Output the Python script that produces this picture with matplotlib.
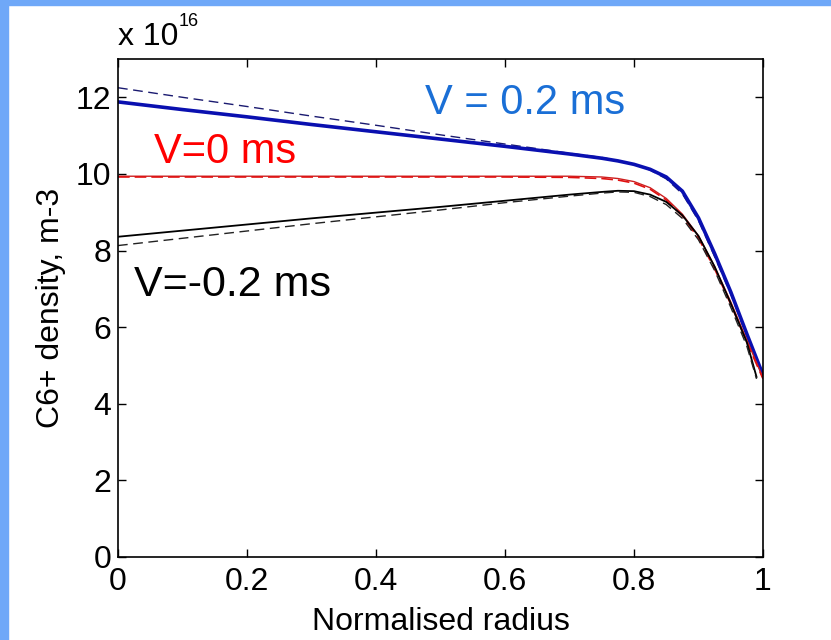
import matplotlib
matplotlib.use("Agg")
import matplotlib.pyplot as plt
from matplotlib.patches import Rectangle

# radial profiles of C6+ density (units of 1e16 m-3)
r = [0, 0.1, 0.2, 0.3, 0.4, 0.5, 0.6, 0.7, 0.75, 0.775, 0.8, 0.825, 0.85, 0.875, 0.9, 0.925, 0.95, 0.975, 1.0]
r_neg = [0, 0.1, 0.2, 0.3, 0.4, 0.5, 0.6, 0.7, 0.75, 0.775, 0.8, 0.825, 0.85, 0.875, 0.9, 0.925, 0.95, 0.975, 0.99]

blue_solid = [11.88, 11.68, 11.49, 11.29, 11.1, 10.91, 10.72, 10.52, 10.41, 10.34, 10.25, 10.12, 9.92, 9.55, 8.85, 7.92, 6.92, 5.82, 4.75]
blue_dash = [12.25, 12.0, 11.76, 11.51, 11.27, 11.02, 10.78, 10.54, 10.43, 10.35, 10.25, 10.1, 9.87, 9.48, 8.78, 7.84, 6.86, 5.76, 4.7]
red_solid = [9.94, 9.94, 9.94, 9.94, 9.94, 9.94, 9.94, 9.94, 9.92, 9.88, 9.8, 9.64, 9.36, 8.95, 8.38, 7.58, 6.66, 5.66, 4.68]
red_dash = [9.92, 9.92, 9.92, 9.92, 9.92, 9.92, 9.92, 9.91, 9.88, 9.84, 9.76, 9.6, 9.32, 8.9, 8.32, 7.52, 6.6, 5.6, 4.65]
black_solid = [8.36, 8.52, 8.68, 8.84, 8.99, 9.14, 9.3, 9.46, 9.53, 9.56, 9.55, 9.46, 9.27, 8.92, 8.38, 7.58, 6.62, 5.6, 4.7]
black_dash = [8.13, 8.32, 8.51, 8.7, 8.88, 9.06, 9.25, 9.42, 9.5, 9.53, 9.52, 9.41, 9.2, 8.84, 8.28, 7.48, 6.52, 5.5, 4.65]

xticks = [0, 0.2, 0.4, 0.6, 0.8, 1]
xticklabels = ['0', '0.2', '0.4', '0.6', '0.8', '1']
yticks = [0, 2, 4, 6, 8, 10, 12]

plt.rcParams['font.family'] = ['Liberation Sans', 'DejaVu Sans']

fig = plt.figure(figsize=(8.31, 6.4), dpi=100)
fig.patch.set_facecolor('white')

# light blue slide border (top and left)
border = '#6fa8f8'
fig.add_artist(Rectangle((0, 1 - 5 / 640), 1, 5 / 640, transform=fig.transFigure, color=border, zorder=0))
fig.add_artist(Rectangle((0, 0), 8 / 831, 1, transform=fig.transFigure, color=border, zorder=0))

ax = fig.add_axes([118 / 831, 83 / 640, 645 / 831, 498 / 640])

ax.plot(r, blue_dash, color='#1a1a70', lw=1.0, ls=(0, (7, 4)))
ax.plot(r, blue_solid, color='#0a10b0', lw=2.6)
ax.plot(r, red_solid, color='#cc2020', lw=1.0)
ax.plot(r, red_dash, color='#e01010', lw=1.2, ls=(0, (7, 3)))
ax.plot(r_neg, black_solid, color='black', lw=1.3)
ax.plot(r_neg, black_dash, color='#222222', lw=1.0, ls=(0, (7, 4)))

ax.set_xlim(0, 1)
ax.set_ylim(0, 13)
ax.set_xticks(xticks)
ax.set_xticklabels(xticklabels)
ax.set_yticks(yticks)
ax.tick_params(direction='in', length=6, width=1, top=True, right=True,
               labelsize=23, pad=5)
ax.tick_params(axis='x', pad=7)
for s in ax.spines.values():
    s.set_linewidth(1.2)

ax.set_xlabel('Normalised radius', fontsize=23)
ax.xaxis.set_label_coords(0.5, -0.1)
ax.set_ylabel('C6+ density, m-3', fontsize=23)
ax.yaxis.set_label_coords(-0.08, 0.5)

# MATLAB style exponent
ax.text(0.0, 1.014, 'x 10', transform=ax.transAxes, fontsize=23, ha='left', va='bottom')
ax.text(0.094, 1.058, '16', transform=ax.transAxes, fontsize=13, ha='left', va='bottom')

ax.text(0.631, 11.85, 'V = 0.2 ms', color='#1a6fd6', fontsize=30, ha='center', va='center')
ax.text(0.166, 10.57, 'V=0 ms', color='#ff0000', fontsize=30, ha='center', va='center')
ax.text(0.177, 7.1, 'V=-0.2 ms', color='black', fontsize=31, ha='center', va='center')

fig.savefig('out.png', dpi=100, facecolor='white')
